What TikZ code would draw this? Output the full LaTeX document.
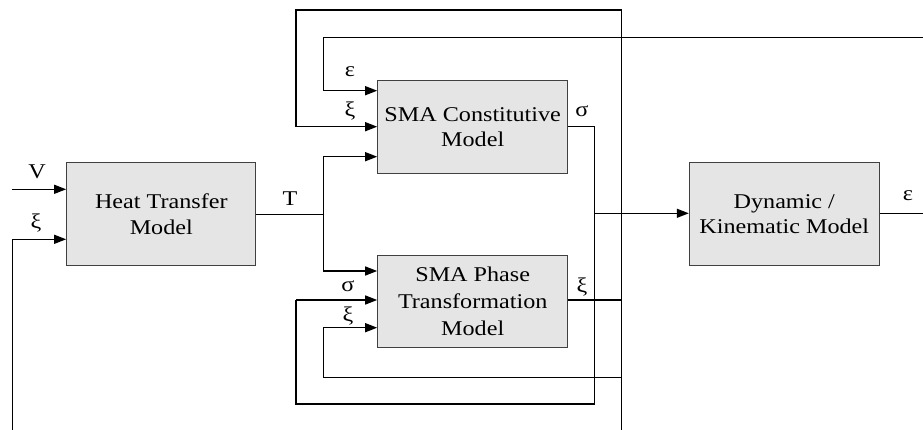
\documentclass[tikz,border=0pt]{standalone}
\usepackage{fontspec}
\setmainfont{Liberation Serif}[FakeStretch=1.15]
\usetikzlibrary{arrows.meta}
\tikzset{
  block/.style={draw=black!75, fill=black!10, line width=1pt, align=center,
    inner sep=0pt, font=\fontsize{21}{25.5}\selectfont},
  lbl/.style={inner sep=0pt, font=\fontsize{21}{25}\selectfont},
  wire/.style={draw=black, line width=1.3pt},
  arr/.style={wire, -{Triangle[length=12pt,width=9pt]}}
}
\begin{document}
\begin{tikzpicture}[x=1pt,y=-1pt]
\useasboundingbox (0,0) rectangle (923,430);

% model blocks
\node[block, minimum width=189.3, minimum height=103.3] (heat) at (161.3,214.3) {Heat Transfer\\Model};
\node[block, minimum width=190, minimum height=92.6] (const) at (472.7,127) {SMA Constitutive\\Model};
\node[block, minimum width=190, minimum height=92.3, font=\fontsize{21}{27}\selectfont] (phase) at (472.7,301.2) {SMA Phase\\Transformation\\Model};
\node[block, minimum width=190, minimum height=103.3] (dyn) at (784.3,214.3) {Dynamic /\\Kinematic Model};

% junctions and free ends
\coordinate (vin) at (12,189.3);
\coordinate (xiin) at (12.7,430);
\coordinate (tj) at (323.3,214.3);
\coordinate (epsfb) at (923,37.3);
\coordinate (epsout) at (923,213.3);
\coordinate (xirail) at (621.7,300);
\coordinate (xitop) at (621.7,430);
\coordinate (sigrail) at (594.3,126.7);

% heat transfer inputs
\draw[arr] (vin) -- (vin -| heat.west);
\draw[arr] (xiin) -- (12.7,239.3) -- (12.7,239.3 -| heat.west);

% temperature distribution
\draw[wire] (heat.east |- tj) -- (tj);
\draw[arr] (tj) -- (323.3,156.7) -- (323.3,156.7 -| const.west);
\draw[arr] (tj) -- (323.3,271) -- (323.3,271 -| phase.west);

% strain feedback
\draw[arr] (epsfb) -- (323.3,37.3) -- (323.3,90.7) -- (323.3,90.7 -| const.west);
\draw[wire] (dyn.east |- epsout) -- (epsout);

% martensite fraction feedback
\draw[wire] (phase.east |- xirail) -- (xirail);
\draw[arr] (xitop) -- (621.7,10) -- (296,10) -- (296,126.7) -- (296,126.7 -| const.west);
\draw[arr] (621.7,377.3) -- (323.3,377.3) -- (323.3,327.7) -- (323.3,327.7 -| phase.west);

% stress output
\draw[wire] (const.east |- sigrail) -- (sigrail) -- (594.3,404) -- (296,404) -- (296,300);
\draw[arr] (296,300) -- (296,300 -| phase.west);
\draw[arr] (594.3,213.3) -- (594.3,213.3 -| dyn.west);

% signal labels
\node[lbl] (lv) at (37,172) {V};
\node[lbl] (lxih) at (36,223) {ξ};
\node[lbl] (lt) at (290,199) {T};
\node[lbl] (leps) at (350,72) {ε};
\node[lbl] (lxic) at (350,111) {ξ};
\node[lbl] (lsigc) at (582,111) {σ};
\node[lbl] (lsigp) at (348,286) {σ};
\node[lbl] (lxip) at (348,316) {ξ};
\node[lbl] (lxio) at (582,287) {ξ};
\node[lbl] (lepso) at (908,196) {ε};
\end{tikzpicture}
\end{document}
